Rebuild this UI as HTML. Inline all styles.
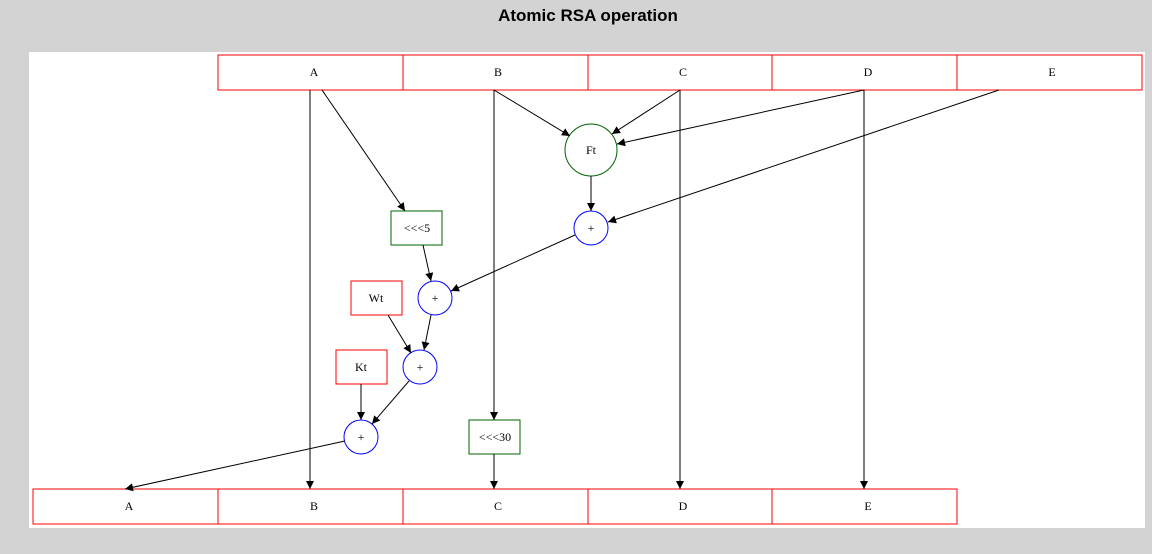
<!DOCTYPE html>
<html><head><style>
body{margin:0;background:#d3d3d3;width:1152px;height:549px;overflow:hidden;font-family:"Liberation Sans",sans-serif}
</style></head><body>
<svg width="1152" height="549" xmlns="http://www.w3.org/2000/svg">
<defs><marker id="a" viewBox="0 0 10 10" refX="10" refY="5" markerWidth="10" markerHeight="8" markerUnits="userSpaceOnUse" orient="auto"><path d="M0,0L10,5L0,10z" fill="#000"/></marker></defs>
<text x="588" y="21" text-anchor="middle" font-weight="bold" font-size="17" font-family="Liberation Sans,sans-serif">Atomic RSA operation</text>
<rect x="29" y="52" width="1116" height="476" fill="#fff"/>
<g fill="none" stroke="#f00" stroke-width="1">
<rect x="218" y="55" width="924" height="35"/>
<path d="M403,55V90M588,55V90M772,55V90M957,55V90"/>
<rect x="33" y="489" width="924" height="35"/>
<path d="M218,489V524M403,489V524M588,489V524M772,489V524"/>
<rect x="351" y="281" width="51" height="34"/>
<rect x="336" y="350" width="51" height="34"/>
</g>
<g fill="none" stroke="#006400">
<circle cx="591" cy="150" r="26"/>
<rect x="391" y="211" width="51" height="34"/>
<rect x="469" y="420" width="51" height="34"/>
</g>
<g fill="none" stroke="#00f">
<circle cx="591" cy="228" r="17"/>
<circle cx="435" cy="298" r="17"/>
<circle cx="420" cy="367" r="17"/>
<circle cx="361" cy="437" r="17"/>
</g>
<g stroke="#000" stroke-width="1" marker-end="url(#a)">
<line x1="310" y1="90" x2="310" y2="489"/>
<line x1="322" y1="90" x2="405" y2="211"/>
<line x1="494" y1="90" x2="494" y2="420"/>
<line x1="494" y1="90" x2="570" y2="136"/>
<line x1="680" y1="90" x2="612" y2="134"/>
<line x1="680" y1="90" x2="680" y2="489"/>
<line x1="864" y1="90" x2="617" y2="144"/>
<line x1="864" y1="90" x2="864" y2="489"/>
<line x1="999" y1="90" x2="608" y2="222"/>
<line x1="591" y1="176" x2="591" y2="211"/>
<line x1="575" y1="235" x2="451" y2="291"/>
<line x1="423" y1="245" x2="431" y2="281"/>
<line x1="431" y1="315" x2="424" y2="350"/>
<line x1="388" y1="315" x2="411" y2="353"/>
<line x1="409" y1="381" x2="372" y2="424"/>
<line x1="361" y1="384" x2="361" y2="420"/>
<line x1="345" y1="441" x2="125" y2="489"/>
<line x1="494" y1="454" x2="494" y2="489"/>
</g>
<g font-family="Liberation Serif,serif" font-size="12" text-anchor="middle">
<text x="314" y="76">A</text><text x="498" y="76">B</text><text x="683" y="76">C</text><text x="868" y="76">D</text><text x="1052" y="76">E</text>
<text x="129" y="510">A</text><text x="314" y="510">B</text><text x="498" y="510">C</text><text x="683" y="510">D</text><text x="868" y="510">E</text>
<text x="591" y="154">Ft</text>
<text x="591" y="232">+</text><text x="435" y="302">+</text><text x="420" y="371">+</text><text x="361" y="441">+</text>
<text x="417" y="232">&lt;&lt;&lt;5</text>
<text x="376" y="302">Wt</text>
<text x="361" y="371">Kt</text>
<text x="495" y="441">&lt;&lt;&lt;30</text>
</g>
</svg>
</body></html>
